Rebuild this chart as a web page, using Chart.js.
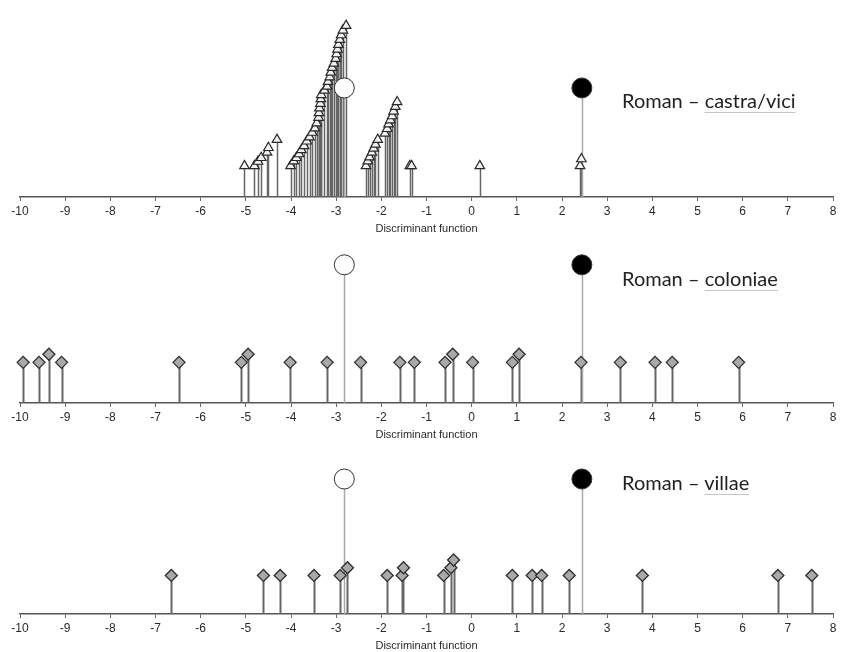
<!DOCTYPE html>
<html>
<head>
<meta charset="utf-8">
<script src="https://cdn.jsdelivr.net/npm/chart.js@4/dist/chart.umd.min.js"></script>
<style>
  html, body { margin: 0; padding: 0; background: #fff; overflow: hidden; }
  #wrap { position: relative; width: 844px; height: 652px; }
  .panel { position: absolute; left: 0; width: 844px; }
  .panel canvas { display: block; }
  .label {
    position: absolute; left: 622px; font-family: Lato, "Open Sans", sans-serif;
    font-size: 20px; line-height: 20px; color: #222; white-space: nowrap;
  }
  .label span { text-decoration: underline; text-decoration-color: #c4c4c4; text-decoration-thickness: 1px; text-underline-offset: 4px; }
</style>
</head>
<body>
<div id="wrap">
  <div class="panel" style="top:0px;height:240px"><canvas id="castra" width="844" height="240"></canvas></div>
  <div class="panel" style="top:240px;height:206px"><canvas id="coloniae" width="844" height="206"></canvas></div>
  <div class="panel" style="top:446px;height:211px"><canvas id="villae" width="844" height="211"></canvas></div>
  <div class="label" style="top:90px">Roman – <span>castra/vici</span></div>
  <div class="label" style="top:268px">Roman – <span>coloniae</span></div>
  <div class="label" style="top:472px">Roman – <span>villae</span></div>
</div>
<script>
// Discriminant-function axis ticks
const axisTicks = [-10, -9, -8, -7, -6, -5, -4, -3, -2, -1, 0, 1, 2, 3, 4, 5, 6, 7, 8];

// Group centroids (open = native group, filled = Roman group)
const centroidX = [-2.82, 2.44];
const castraCentroidY = [3.5, 3.5];
const coloniaeCentroidY = [3.4, 3.4];
const villaeCentroidY = [3.5, 3.5];

// Roman castra/vici sites (y = stacking offset so close scores stay visible)
const castraX = [
  -5.03, -4.81, -4.73, -4.66, -4.53, -4.50, -4.31,
  -4.01, -3.94, -3.88, -3.82, -3.77, -3.71, -3.65, -3.59, -3.53, -3.47, -3.43, -3.39, -3.38, -3.37, -3.35, -3.34, -3.33, -3.26,
  -3.20, -3.18, -3.14, -3.12, -3.09, -3.05, -3.01, -2.99, -2.97, -2.95, -2.92, -2.89, -2.85, -2.78,
  -2.34, -2.30, -2.26, -2.21, -2.17, -2.13, -2.08, -1.92, -1.87, -1.84, -1.80, -1.76, -1.73, -1.69, -1.65,
  -1.37, -1.33, 0.18, 2.40, 2.43
];
const castraY = [
  1.00, 1.00, 1.14, 1.26, 1.43, 1.58, 1.84,
  1.00, 1.15, 1.26, 1.38, 1.51, 1.64, 1.79, 1.92, 2.07, 2.21, 2.37, 2.55, 2.70, 2.85, 3.00, 3.15, 3.28, 3.42,
  3.55, 3.70, 3.85, 4.00, 4.15, 4.29, 4.44, 4.59, 4.74, 4.89, 5.05, 5.20, 5.35, 5.50,
  1.00, 1.15, 1.28, 1.43, 1.56, 1.69, 1.84, 2.04, 2.19, 2.34, 2.47, 2.60, 2.75, 2.90, 3.05,
  1.00, 1.00, 1.00, 1.00, 1.22
];

// Roman coloniae
const coloniaeX = [-9.93, -9.58, -9.36, -9.08, -6.48, -5.10, -4.95, -4.02, -3.20, -2.46, -1.59, -1.27,
  -0.59, -0.42, 0.02, 0.90, 1.05, 2.42, 3.29, 4.06, 4.44, 5.91];
const coloniaeY = [1, 1, 1.2, 1, 1, 1, 1.2, 1, 1, 1, 1, 1,
  1, 1.2, 1, 1, 1.2, 1, 1, 1, 1, 1];

// Roman villae
const villaeX = [-6.65, -4.61, -4.24, -3.49, -2.91, -2.75, -1.87, -1.54, -1.51,
  -0.62, -0.46, -0.40, 0.90, 1.34, 1.55, 2.16, 3.78, 6.78, 7.53];
const villaeY = [1, 1, 1, 1, 1, 1.2, 1, 1, 1.2,
  1, 1.2, 1.4, 1, 1, 1, 1, 1, 1, 1];

const pairs = (xs, ys) => xs.map((x, i) => ({ x: x, y: ys[i] }));

// Vertical stems from each point down to y = 0
const stemPlugin = {
  id: 'stems',
  beforeDatasetsDraw(chart) {
    const ctx = chart.ctx;
    const base = chart.scales.y.getPixelForValue(0);
    for (let i = chart.data.datasets.length - 1; i >= 0; i--) {
      const ds = chart.data.datasets[i];
      const meta = chart.getDatasetMeta(i);
      ctx.save();
      ctx.strokeStyle = ds.stemColor;
      ctx.lineWidth = ds.stemWidth;
      meta.data.forEach(pt => {
        const x = Math.round(pt.x) + 0.5;
        ctx.beginPath();
        ctx.moveTo(x, base);
        ctx.lineTo(x, pt.y);
        ctx.stroke();
      });
      ctx.restore();
    }
  }
};

function makePanel(id, siteData, siteStyle, centroidY, yMax, axisHeight) {
  new Chart(document.getElementById(id), {
    type: 'scatter',
    data: {
      datasets: [
        {
          data: pairs(centroidX, centroidY),
          pointStyle: 'circle',
          pointRadius: 10,
          pointHoverRadius: 10,
          backgroundColor: ['#ffffff', '#000000'],
          borderColor: '#333333',
          borderWidth: 1,
          stemColor: '#a8a8a8',
          stemWidth: 1.5,
          clip: false
        },
        Object.assign({ data: siteData, clip: false }, siteStyle)
      ]
    },
    options: {
      responsive: false,
      animation: false,
      devicePixelRatio: 1,
      layout: { padding: { left: 20, right: 6, top: 0, bottom: 0 } },
      plugins: { legend: { display: false }, tooltip: { enabled: false } },
      scales: {
        x: {
          type: 'linear',
          min: -10, max: 8,
          afterBuildTicks: s => { s.ticks = axisTicks.map(v => ({ value: v })); },
          afterFit: s => { s.height = axisHeight; },
          border: { display: true, color: '#555555', width: 1.5 },
          grid: { display: true, drawOnChartArea: false, drawTicks: true, tickLength: 4, color: '#666666' },
          ticks: {
            padding: 3,
            color: '#2a2a2a',
            font: { family: '"Liberation Sans", Arial, sans-serif', size: 12 },
            callback: v => String(v)
          },
          title: {
            display: true,
            text: 'Discriminant function',
            color: '#2a2a2a',
            font: { family: '"Liberation Sans", Arial, sans-serif', size: 11 },
            padding: { top: 0, bottom: 4 }
          }
        },
        y: { display: false, min: 0, max: yMax }
      }
    },
    plugins: [stemPlugin]
  });
}

const triangleStyle = {
  pointStyle: 'triangle', pointRadius: 5.5, pointHoverRadius: 5.5,
  backgroundColor: '#f2f2f2', borderColor: '#2a2a2a', borderWidth: 1.2,
  stemColor: '#666666', stemWidth: 1.5
};
const diamondStyle = {
  pointStyle: 'rectRot', pointRadius: 6, pointHoverRadius: 6,
  backgroundColor: '#a9a9a9', borderColor: '#2e2e2e', borderWidth: 1.3,
  stemColor: '#666666', stemWidth: 2
};

makePanel('castra', pairs(castraX, castraY), triangleStyle, castraCentroidY, 5.97, 43);
makePanel('coloniae', pairs(coloniaeX, coloniaeY), diamondStyle, coloniaeCentroidY, 3.74, 43);
makePanel('villae', pairs(villaeX, villaeY), diamondStyle, villaeCentroidY, 4.07, 43);
</script>
</body>
</html>
